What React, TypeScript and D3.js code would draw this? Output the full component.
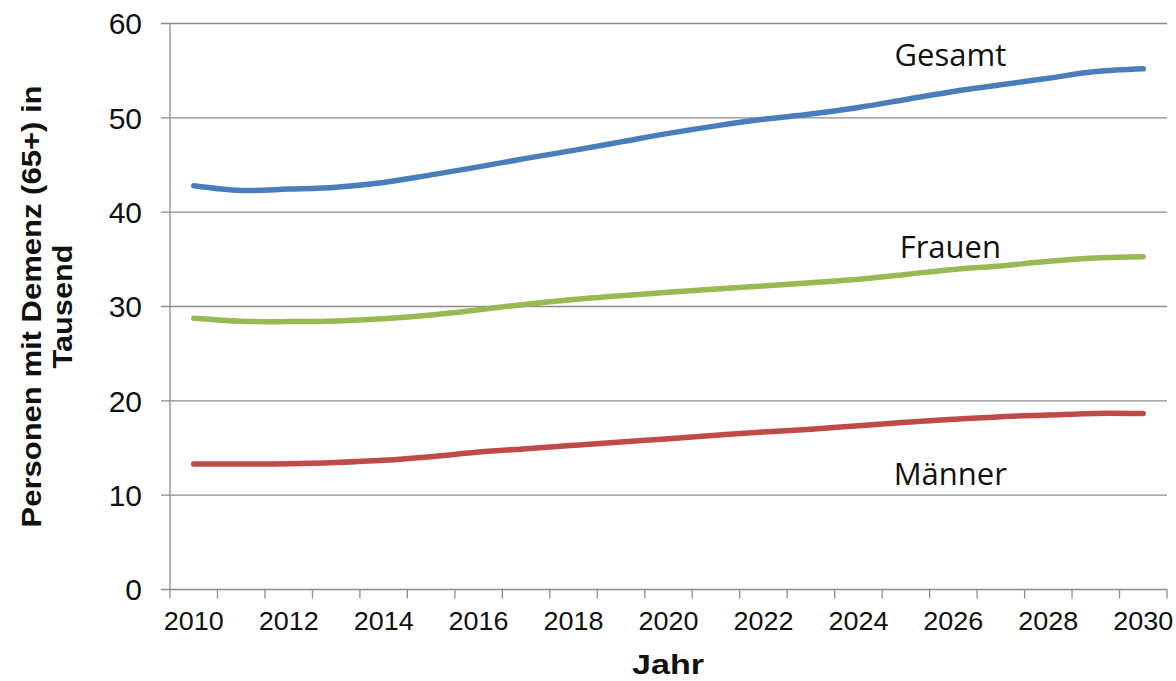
import React, { useEffect, useRef } from "react";
import {
  select,
  scaleBand,
  scaleLinear,
  line,
  curveCatmullRom,
} from "d3";

const years = [
  2010, 2011, 2012, 2013, 2014, 2015, 2016, 2017, 2018, 2019, 2020,
  2021, 2022, 2023, 2024, 2025, 2026, 2027, 2028, 2029, 2030,
];

const gesamt = [
  42.8, 42.3, 42.45, 42.65, 43.15, 43.95, 44.8, 45.7, 46.55, 47.45, 48.35,
  49.15, 49.85, 50.4, 51.1, 51.95, 52.8, 53.5, 54.2, 54.9, 55.2,
];
const frauen = [
  28.75, 28.43, 28.4, 28.46, 28.7, 29.1, 29.65, 30.25, 30.75, 31.15, 31.5,
  31.85, 32.17, 32.52, 32.88, 33.4, 33.93, 34.3, 34.8, 35.15, 35.28,
];
const maenner = [
  13.3, 13.3, 13.33, 13.47, 13.7, 14.08, 14.57, 14.93, 15.28, 15.63, 15.98,
  16.35, 16.7, 17.0, 17.37, 17.72, 18.04, 18.32, 18.5, 18.67, 18.65,
];

const seriesNames = ["Gesamt", "Frauen", "Männer"];
const seriesColors = ["#4a7ebb", "#98b954", "#be4b48"];
// where each series label sits (value on y axis, baseline)
const labelValues = [55.5, 35.15, 11.05];

const yTicks = [0, 10, 20, 30, 40, 50, 60];
const xLabelYears = [2010, 2012, 2014, 2016, 2018, 2020, 2022, 2024, 2026, 2028, 2030];

export default function App() {
  const ref = useRef<SVGSVGElement>(null);

  useEffect(() => {
    const width = 1176;
    const height = 681;
    const margin = { top: 23.5, right: 9, bottom: 91.5, left: 170 };
    const innerWidth = width - margin.left - margin.right;
    const innerHeight = height - margin.top - margin.bottom;

    const svg = select(ref.current);
    svg.selectAll("*").remove();

    const xScale = scaleBand<number>()
      .domain(years)
      .range([0, innerWidth]);
    const xCenter = (y: number) => (xScale(y) as number) + xScale.bandwidth() / 2;

    const yScale = scaleLinear().domain([0, 60]).range([innerHeight, 0]);

    const g = svg
      .append("g")
      .attr("transform", `translate(${margin.left},${margin.top})`);

    const gridColor = "#8c8c8c";

    // horizontal gridlines + y ticks
    g.selectAll(".grid")
      .data(yTicks)
      .enter()
      .append("line")
      .attr("x1", -9)
      .attr("x2", innerWidth)
      .attr("y1", (d) => yScale(d))
      .attr("y2", (d) => yScale(d))
      .attr("stroke", gridColor)
      .attr("stroke-width", 1.3);

    g.selectAll(".ylab")
      .data(yTicks)
      .enter()
      .append("text")
      .attr("x", -28)
      .attr("y", (d) => yScale(d))
      .attr("dy", "0.36em")
      .attr("text-anchor", "end")
      .attr("font-family", "Liberation Sans, Arial, sans-serif")
      .attr("font-size", 30)
      .attr("fill", "#111")
      .text((d) => d);

    // y axis line
    g.append("line")
      .attr("x1", 0)
      .attr("x2", 0)
      .attr("y1", 0)
      .attr("y2", innerHeight)
      .attr("stroke", gridColor)
      .attr("stroke-width", 1.3);

    // x tick marks between categories
    const tickPos = years.map((y) => xScale(y) as number).concat([innerWidth]);
    g.selectAll(".xtick")
      .data(tickPos)
      .enter()
      .append("line")
      .attr("x1", (d) => d)
      .attr("x2", (d) => d)
      .attr("y1", innerHeight)
      .attr("y2", innerHeight + 9)
      .attr("stroke", gridColor)
      .attr("stroke-width", 1.3);

    g.selectAll(".xlab")
      .data(xLabelYears)
      .enter()
      .append("text")
      .attr("x", (d) => xCenter(d))
      .attr("y", innerHeight + 40)
      .attr("text-anchor", "middle")
      .attr("font-family", "Liberation Sans, Arial, sans-serif")
      .attr("font-size", 26)
      .attr("textLength", 60)
      .attr("lengthAdjust", "spacingAndGlyphs")
      .attr("fill", "#111")
      .text((d) => d);

    // lines
    const allSeries = [gesamt, frauen, maenner];
    const lineGen = line<number>()
      .x((_, i) => xCenter(years[i]))
      .y((d) => yScale(d))
      .curve(curveCatmullRom.alpha(0.5));

    allSeries.forEach((vals, i) => {
      g.append("path")
        .attr("d", lineGen(vals))
        .attr("fill", "none")
        .attr("stroke", seriesColors[i])
        .attr("stroke-width", 5.5)
        .attr("stroke-linecap", "round")
        .attr("stroke-linejoin", "round");
    });

    // series labels
    seriesNames.forEach((name, i) => {
      g.append("text")
        .attr("x", xCenter(2026) - 3)
        .attr("y", yScale(labelValues[i]))
        .attr("text-anchor", "middle")
        .attr("font-family", "Open Sans, sans-serif")
        .attr("font-size", 31)
        .attr("fill", "#111")
        .text(name);
    });

    // axis titles
    const yTitle = svg
      .append("text")
      .attr("transform", `translate(0,${margin.top + innerHeight / 2}) rotate(-90)`)
      .attr("text-anchor", "middle")
      .attr("font-family", "Liberation Sans, Arial, sans-serif")
      .attr("font-weight", "bold")
      .attr("font-size", 28)
      .attr("fill", "#111");
    yTitle
      .append("tspan")
      .attr("x", 0)
      .attr("y", 41)
      .attr("textLength", 442)
      .attr("lengthAdjust", "spacingAndGlyphs")
      .text("Personen mit Demenz (65+) in");
    yTitle
      .append("tspan")
      .attr("x", 0)
      .attr("y", 72)
      .attr("textLength", 124)
      .attr("lengthAdjust", "spacingAndGlyphs")
      .text("Tausend");

    svg
      .append("text")
      .attr("x", 668)
      .attr("y", 674)
      .attr("text-anchor", "middle")
      .attr("font-family", "Liberation Sans, Arial, sans-serif")
      .attr("font-weight", "bold")
      .attr("font-size", 28)
      .attr("textLength", 72)
      .attr("lengthAdjust", "spacingAndGlyphs")
      .attr("fill", "#111")
      .text("Jahr");
  }, []);

  return (
    <div style={{ position: "absolute", left: 0, top: 0 }}>
      <svg ref={ref} width={1176} height={681} style={{ display: "block", background: "#fff" }} />
    </div>
  );
}
